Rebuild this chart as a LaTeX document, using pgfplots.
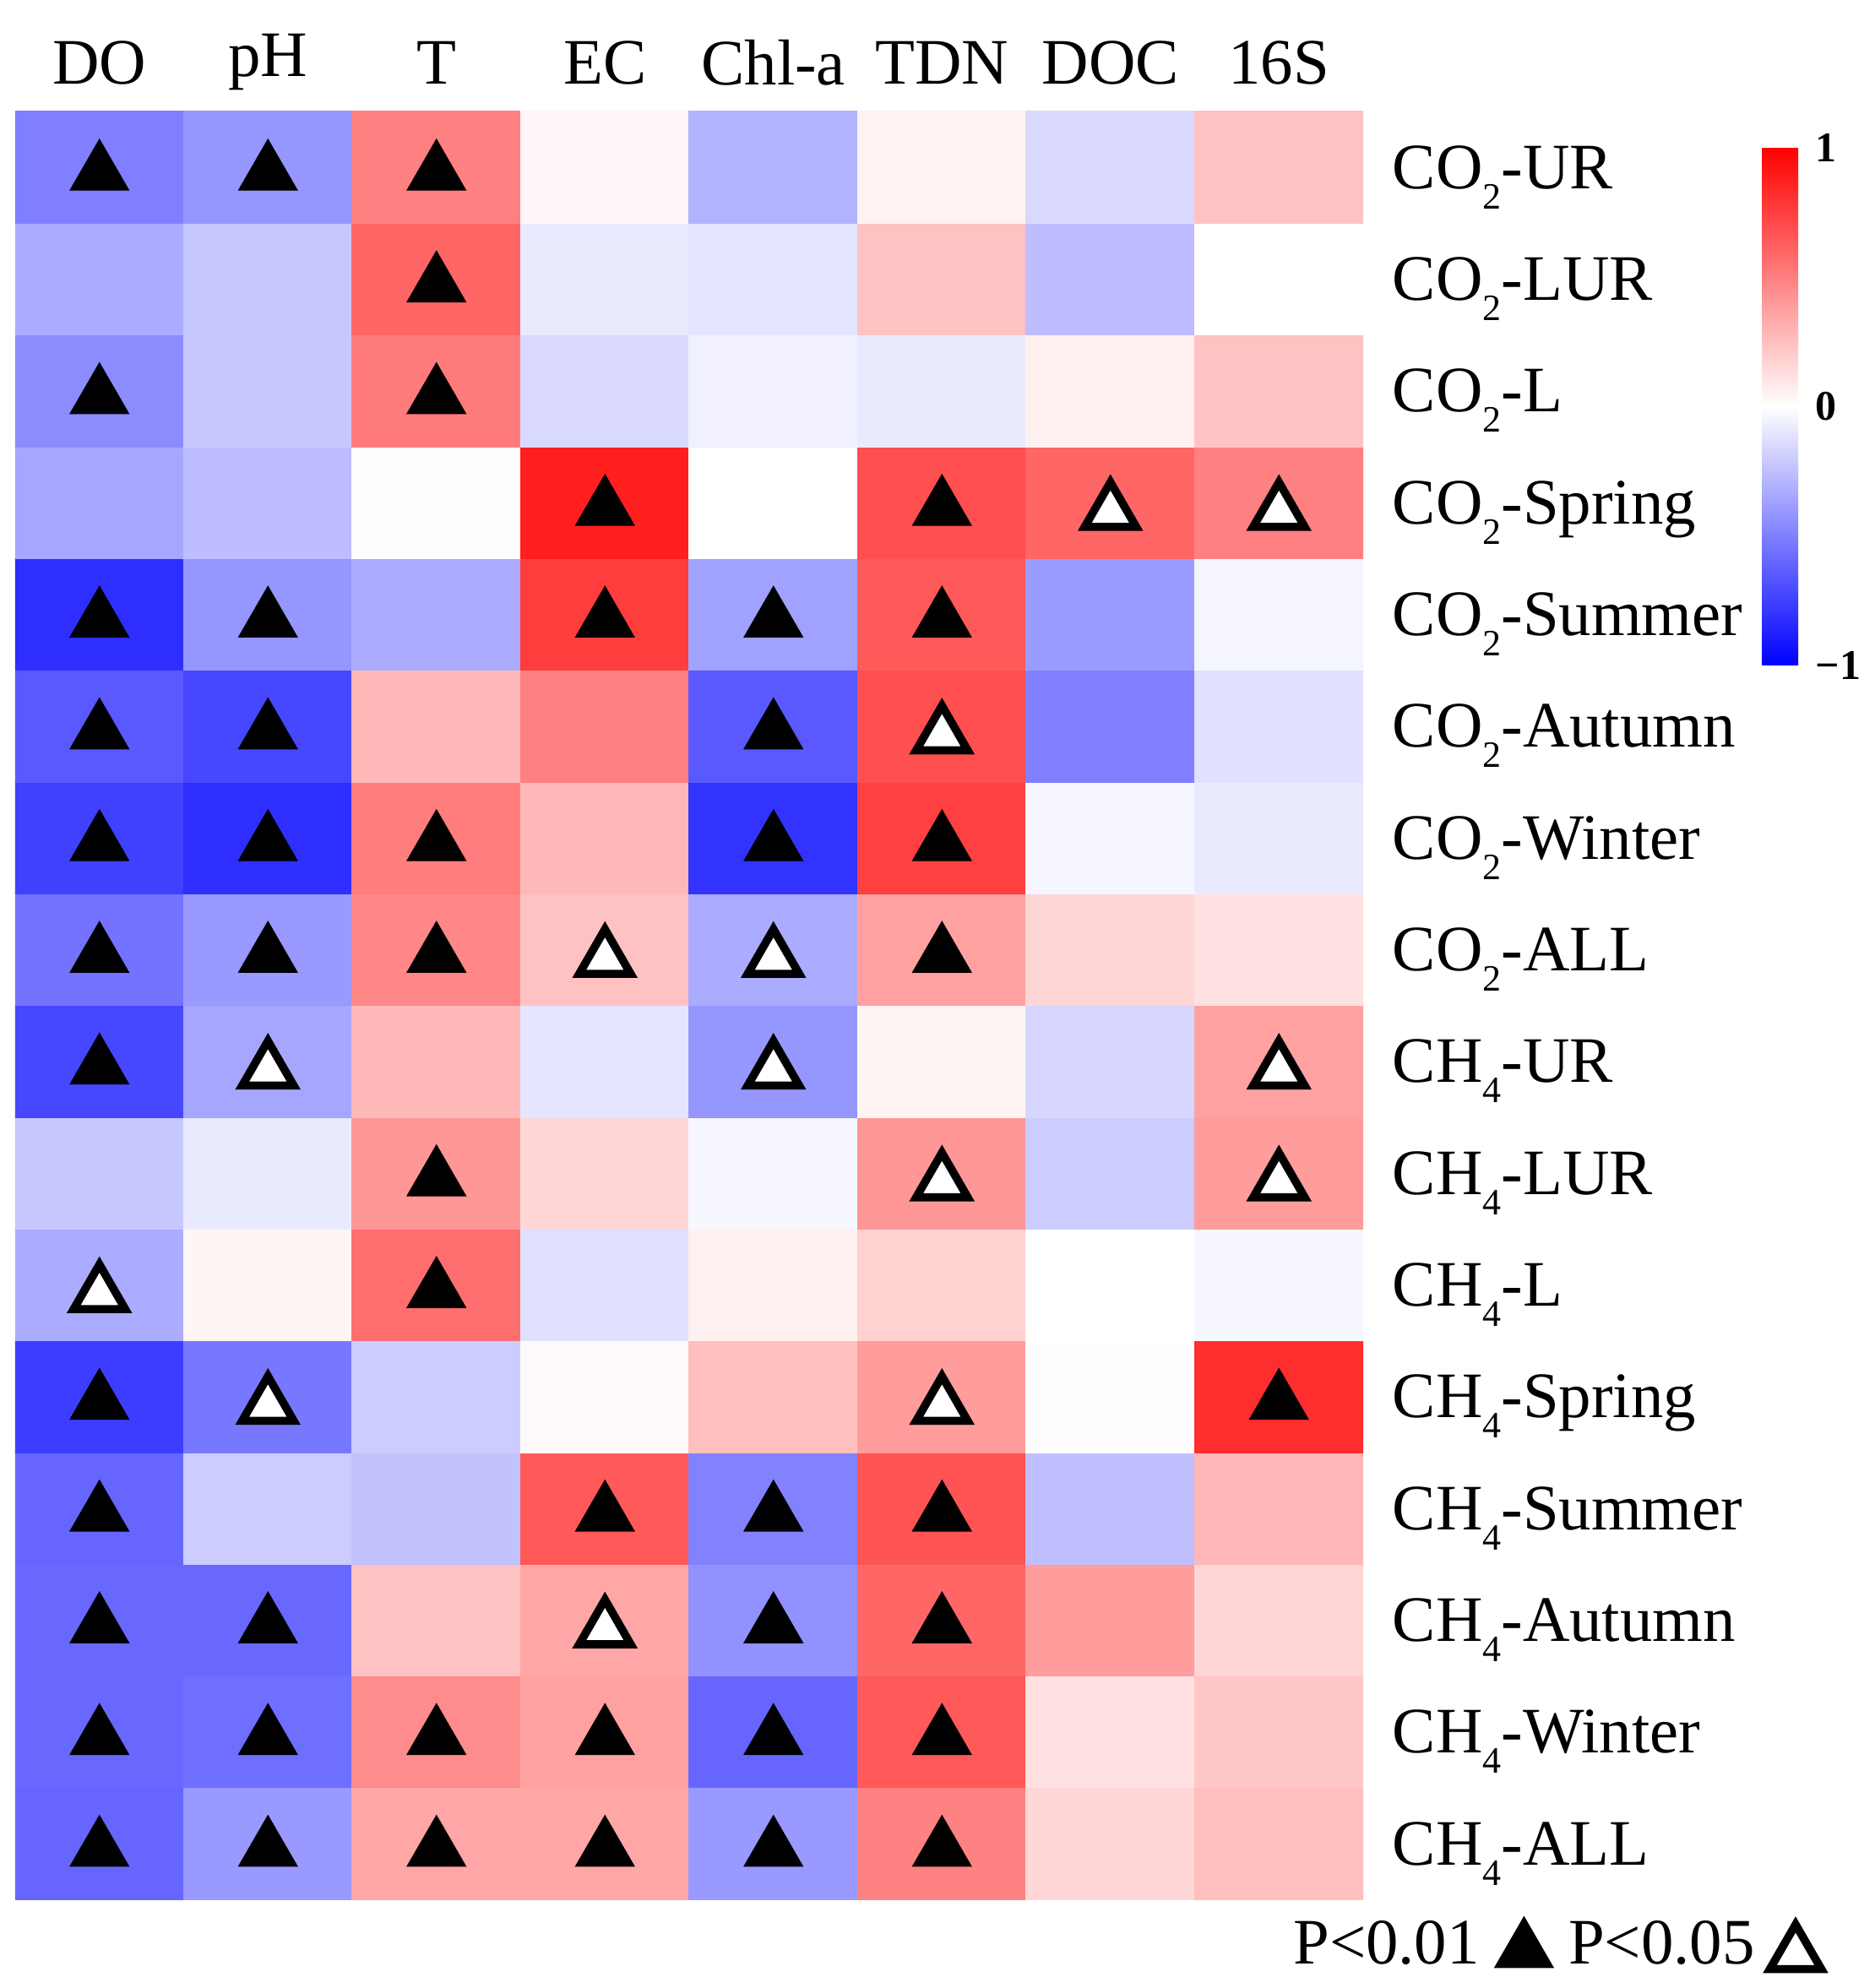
\documentclass[border=0pt]{standalone}
\usepackage{pgfplots}
\pgfplotsset{compat=1.18}
\usetikzlibrary{calc}
\usepackage{fontspec}
\setmainfont{Liberation Serif}
\newcommand{\sub}[1]{\raisebox{-6pt}{\fontsize{11}{11}\selectfont #1}}
\newcommand{\lab}{\fontsize{19.2}{20}\selectfont}
\begin{document}
\begin{tikzpicture}
\path[use as bounding box] (-4.5pt,-26.25pt) rectangle (550.25pt,562.25pt);
\begin{axis}[
  at={(0,0)}, anchor=south west,
  scale only axis, width=399pt, height=529.25pt,
  xmin=-0.5, xmax=7.5, ymin=-0.5, ymax=15.5,
  axis line style={draw=none},
  major tick length=0pt,
  xtick={0,...,7},
  xticklabels={DO,pH,T,EC,Chl-a,TDN,DOC,16S},
  xticklabel pos=top,
  xticklabel style={anchor=center, yshift=14.5pt, inner sep=0pt, font=\lab},
  ytick={0,...,15},
  yticklabels={{CH\sub{4}-ALL},{CH\sub{4}-Winter},{CH\sub{4}-Autumn},{CH\sub{4}-Summer},{CH\sub{4}-Spring},{CH\sub{4}-L},{CH\sub{4}-LUR},{CH\sub{4}-UR},{CO\sub{2}-ALL},{CO\sub{2}-Winter},{CO\sub{2}-Autumn},{CO\sub{2}-Summer},{CO\sub{2}-Spring},{CO\sub{2}-L},{CO\sub{2}-LUR},{CO\sub{2}-UR}},
  yticklabel pos=right,
  yticklabel style={anchor=base west, inner sep=0pt, xshift=8.5pt, yshift=-6.3pt, font=\lab},
  colormap={bwr}{rgb255=(0,0,255) rgb255=(255,255,255) rgb255=(255,0,0)},
  point meta min=-1, point meta max=1,
  colorbar,
  colorbar style={
    at={($(parent axis.north east)+(109.5pt,-10.75pt)$)}, anchor=north west,
    scale only axis, width=10.75pt, height=153.25pt,
    axis line style={draw=none}, major tick length=0pt,
    ytick={-1,0,1}, yticklabels={\textbf{−1},\textbf{0},\textbf{1}},
    yticklabel style={anchor=west, inner sep=0pt, xshift=5pt, font=\fontsize{12.5}{13}\selectfont},
  },
  legend style={
    at={(axis description cs:1.3404,0)}, anchor=north east, yshift=-5pt,
    draw=none, fill=none, inner sep=0pt,
    legend columns=2, column sep=4.5pt,
    nodes={inner sep=0pt},
    font=\lab,
  },
  legend plot pos=right,
]
\addplot [matrix plot*, mesh/cols=8, point meta=explicit, forget plot] table [meta=c] {
x y c
0 0 -0.60
1 0 -0.40
2 0 0.35
3 0 0.35
4 0 -0.40
5 0 0.49
6 0 0.16
7 0 0.25
0 1 -0.59
1 1 -0.57
2 1 0.45
3 1 0.37
4 1 -0.60
5 1 0.65
6 1 0.12
7 1 0.22
0 2 -0.59
1 2 -0.59
2 2 0.24
3 2 0.35
4 2 -0.43
5 2 0.60
6 2 0.39
7 2 0.16
0 3 -0.60
1 3 -0.20
2 3 -0.24
3 3 0.65
4 3 -0.49
5 3 0.67
6 3 -0.25
7 3 0.28
0 4 -0.76
1 4 -0.53
2 4 -0.20
3 4 0.02
4 4 0.25
5 4 0.39
6 4 0.01
7 4 0.82
0 5 -0.33
1 5 0.04
2 5 0.57
3 5 -0.12
4 5 0.06
5 5 0.18
6 5 0.00
7 5 -0.03
0 6 -0.22
1 6 -0.08
2 6 0.41
3 6 0.16
4 6 -0.03
5 6 0.41
6 6 -0.20
7 6 0.39
0 7 -0.72
1 7 -0.35
2 7 0.28
3 7 -0.10
4 7 -0.41
5 7 0.04
6 7 -0.16
7 7 0.37
0 8 -0.55
1 8 -0.40
2 8 0.47
3 8 0.24
4 8 -0.33
5 8 0.37
6 8 0.16
7 8 0.12
0 9 -0.75
1 9 -0.82
2 9 0.51
3 9 0.28
4 9 -0.80
5 9 0.75
6 9 -0.04
7 9 -0.08
0 10 -0.65
1 10 -0.72
2 10 0.28
3 10 0.50
4 10 -0.65
5 10 0.69
6 10 -0.50
7 10 -0.12
0 11 -0.82
1 11 -0.41
2 11 -0.33
3 11 0.76
4 11 -0.37
5 11 0.65
6 11 -0.39
7 11 -0.04
0 12 -0.35
1 12 -0.26
2 12 0.01
3 12 0.88
4 12 0.00
5 12 0.69
6 12 0.60
7 12 0.50
0 13 -0.45
1 13 -0.22
2 13 0.52
3 13 -0.15
4 13 -0.06
5 13 -0.08
6 13 0.06
7 13 0.24
0 14 -0.33
1 14 -0.22
2 14 0.60
3 14 -0.08
4 14 -0.10
5 14 0.24
6 14 -0.26
7 14 0.00
0 15 -0.50
1 15 -0.41
2 15 0.50
3 15 0.03
4 15 -0.30
5 15 0.05
6 15 -0.15
7 15 0.24
};
\addplot [only marks, mark=triangle*, mark size=10pt,
  mark options={fill=black, draw=black, line width=0.3pt, yshift=-1.75pt}] table {
x y
0 15
1 15
2 15
2 14
0 13
2 13
3 12
5 12
0 11
1 11
3 11
4 11
5 11
0 10
1 10
4 10
0 9
1 9
2 9
4 9
5 9
0 8
1 8
2 8
5 8
0 7
2 6
2 5
0 4
7 4
0 3
3 3
4 3
5 3
0 2
1 2
4 2
5 2
0 1
1 1
2 1
3 1
4 1
5 1
0 0
1 0
2 0
3 0
4 0
5 0
};
\addlegendentry{P<0.01}
\addplot [only marks, mark=triangle*, mark size=8.8pt,
  mark options={fill=white, draw=black, line width=2.4pt, yshift=-2.8pt}] table {
x y
6 12
7 12
5 10
3 8
4 8
1 7
4 7
7 7
5 6
7 6
0 5
1 4
5 4
3 2
};
\addlegendentry{P<0.05}
\end{axis}
\end{tikzpicture}
\end{document}
